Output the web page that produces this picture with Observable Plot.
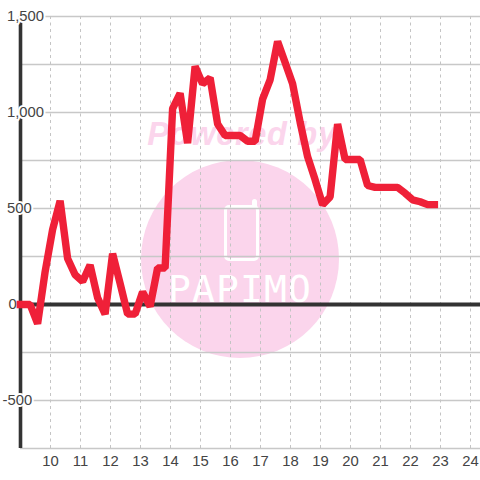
<!DOCTYPE html>
<html><head><meta charset="utf-8">
<script src="https://cdn.jsdelivr.net/npm/d3@7"></script>
<script src="https://cdn.jsdelivr.net/npm/@observablehq/plot@0.6"></script>
<style>
html,body{margin:0;padding:0;background:#fff;overflow:hidden}
#wrap{position:relative;width:480px;height:480px}
#wm,#chart{position:absolute;left:0;top:0;width:480px;height:480px}
#wm div{position:absolute}
#circle{left:141px;top:160px;width:198px;height:198px;border-radius:50%;background:#fbd5ec}
#pw{left:100px;width:284px;top:114px;text-align:center;font:italic bold 32.5px "Liberation Sans";letter-spacing:.7px;color:#fbd5ec;line-height:40px}
#pa{left:140px;width:200px;top:267px;text-align:center;font:38px "DejaVu Sans Mono";letter-spacing:1.1px;color:#fff;line-height:44px}
#ph{left:224px;top:205px;width:29px;height:50px;border:3px solid #fff;border-radius:5px}
#an{left:252px;top:199px;width:5px;height:9px;background:#fff;border-radius:3px 3px 0 0}
</style></head><body>
<div id="wrap">
<div id="wm"><div id="circle"></div><div id="pw">Powered by</div><div id="ph"></div><div id="an"></div><div id="pa">PAPIMO</div></div>
<div id="chart"></div>
</div>
<script>
const hours=[8.87,9.07,9.32,9.57,9.82,10.07,10.32,10.57,10.82,11.07,11.32,11.57,11.82,12.07,12.32,12.57,12.82,13.07,13.32,13.57,13.82,14.07,14.32,14.57,14.82,15.07,15.32,15.57,15.82,16.07,16.32,16.57,16.82,17.07,17.32,17.57,17.82,18.07,18.32,18.57,18.82,19.07,19.32,19.57,19.82,20.07,20.32,20.57,20.82,21.07,21.32,21.57,21.82,22.07,22.32,22.57,22.92];
const values=[0,0,0,-100,170,390,540,240,155,120,205,35,-50,265,110,-50,-50,65,-10,190,190,1020,1100,840,1240,1150,1180,940,880,880,880,850,850,1070,1170,1370,1260,1150,950,770,650,520,560,940,755,755,755,620,610,610,610,610,580,545,535,520,520];
const gridY=[-750,-500,-250,250,500,750,1000,1250,1500];
const xTicks=[10,11,12,13,14,15,16,17,18,19,20,21,22,23,24];
const posLabels=[500,1000,1500];
const series=hours.map((h,i)=>({h,v:values[i]}));
const fmt=d3.format(",");
const textColor="#444";
const plot=Plot.plot({
  width:480,height:480,marginTop:16,marginBottom:31,marginLeft:0,marginRight:0,
  style:{background:"transparent",fontFamily:"Liberation Sans"},
  x:{domain:[9,24],range:[20,470],label:null},
  y:{domain:[-750,1500],range:[448,16],label:null,axis:null},
  marks:[
    Plot.ruleY(gridY,{x1:9,x2:25,stroke:"#c8c8c8",strokeWidth:1.5}),
    Plot.ruleX(xTicks,{y1:-750,y2:1500,stroke:"#c4c4c4",strokeWidth:1,strokeDasharray:"3,3.5"}),
    Plot.ruleX([9],{y1:-750,y2:1500,stroke:"#333",strokeWidth:3.6}),
    Plot.ruleY([0],{x1:9,x2:25,stroke:"#333",strokeWidth:3.8}),
    Plot.text(posLabels,{x:9,y:d=>d,text:d=>fmt(d),textAnchor:"start",dx:-13.5,fontSize:14.8,fill:textColor,stroke:"#fff",strokeWidth:4,paintOrder:"stroke"}),
    Plot.text([0],{x:9,y:d=>d,text:d=>fmt(d),textAnchor:"start",dx:-12,fontSize:14.8,fill:textColor,stroke:"#fff",strokeWidth:4,paintOrder:"stroke"}),
    Plot.text([-500],{x:9,y:d=>d,text:d=>String(d),textAnchor:"start",dx:-18,fontSize:14.8,fill:textColor,stroke:"#fff",strokeWidth:4,paintOrder:"stroke"}),
    Plot.axisX(xTicks,{anchor:"bottom",tickSize:0,tickPadding:6,fontSize:14.8,color:textColor,label:null,tickFormat:d=>String(d)}),
    Plot.line(series,{x:"h",y:"v",stroke:"#ef2038",strokeWidth:7.4,strokeLinejoin:"bevel",strokeLinecap:"butt",curve:"linear"})
  ]
});
document.getElementById("chart").appendChild(plot);
</script>
</body></html>
